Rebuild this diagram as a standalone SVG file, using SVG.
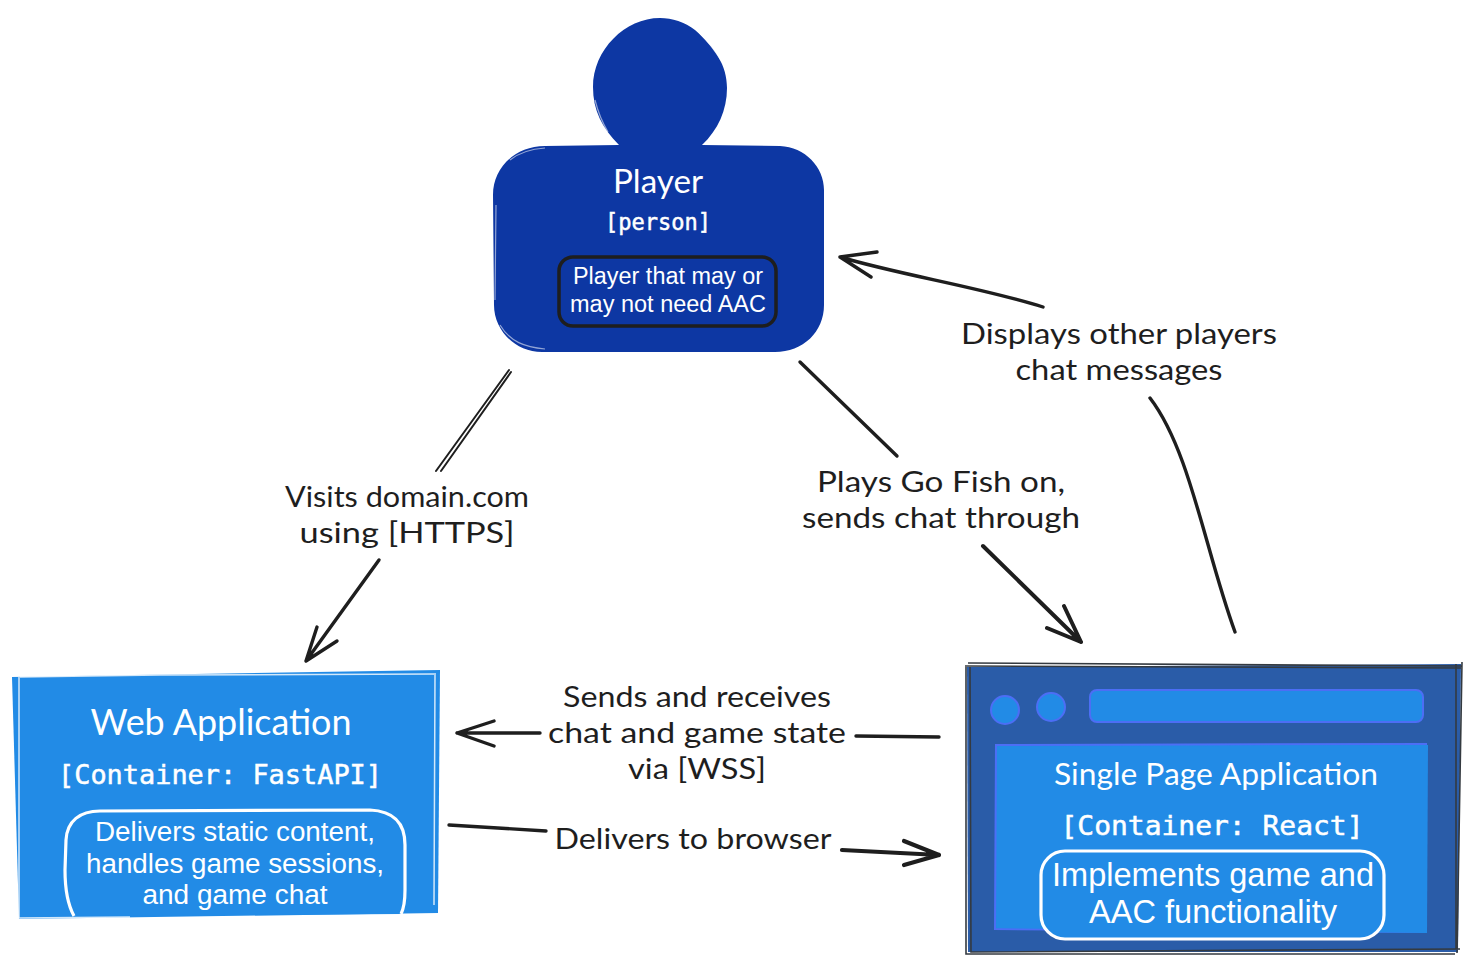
<svg xmlns="http://www.w3.org/2000/svg" width="1474" height="972" viewBox="0 0 1474 972">
<style>
.hand{font-family:"Lato","Open Sans","Liberation Sans",sans-serif;font-size:29px;fill:#1e1e1e;text-anchor:middle}
.title{font-family:"Lato","Open Sans","Liberation Sans",sans-serif;fill:#fff;text-anchor:middle;font-size:33px}
.mono{font-family:"DejaVu Sans Mono","Liberation Mono",monospace;fill:#fff;stroke:#fff;stroke-width:.5;text-anchor:middle}
.sans{font-family:"Liberation Sans",Arial,sans-serif;fill:#fff;text-anchor:middle}
.c{fill:none;stroke:#1e1e1e;stroke-width:3.4;stroke-linecap:round;stroke-linejoin:round}
.lite{fill:none;stroke:#fff;stroke-opacity:.55;stroke-width:1.2}
.dk{fill:none;stroke:#343a40;stroke-width:1.6}
.blu{fill:#228be6;stroke:#4c6ef5;stroke-width:2}
</style>
<rect width="1474" height="972" fill="#fff"/>
<g id="connectors">
<path class="c" style="stroke-width:2" d="M509 370L436 471M511 372L441 471"/>
<path class="c" d="M379 560L306 661M306 661L317 627M306 661L337 641"/>
<path class="c" d="M800 362L897 456"/>
<path class="c" d="M983 546L1081 642M1081 642L1064 606M1081 642L1047 628" style="stroke-width:4"/>
<path class="c" d="M1043 307C980 287 900 275 840 257M840 257L877 252M840 257L871 277"/>
<path class="c" d="M1150 398C1190 450 1205 550 1235 632"/>
<path class="c" d="M939 737L856 736"/>
<path class="c" d="M540 733L457 733M457 733L494 721M457 733L494 746"/>
<path class="c" d="M449 825L546 831"/>
<path class="c" d="M842 850L939 855M939 855L904 841M939 855L904 865" style="stroke-width:4.2"/>
</g>
<g id="edge-labels">
<text class="hand" x="407" y="507" textLength="244" lengthAdjust="spacingAndGlyphs">Visits domain.com</text>
<text class="hand" x="407" y="543" textLength="215" lengthAdjust="spacingAndGlyphs">using [HTTPS]</text>
<text class="hand" x="941" y="492" textLength="248" lengthAdjust="spacingAndGlyphs">Plays Go Fish on,</text>
<text class="hand" x="941" y="528" textLength="278" lengthAdjust="spacingAndGlyphs">sends chat through</text>
<text class="hand" x="1119" y="344" textLength="316" lengthAdjust="spacingAndGlyphs">Displays other players</text>
<text class="hand" x="1119" y="380" textLength="207" lengthAdjust="spacingAndGlyphs">chat messages</text>
<text class="hand" x="697" y="707" textLength="268" lengthAdjust="spacingAndGlyphs">Sends and receives</text>
<text class="hand" x="697" y="743" textLength="298" lengthAdjust="spacingAndGlyphs">chat and game state</text>
<text class="hand" x="697" y="779" textLength="138" lengthAdjust="spacingAndGlyphs">via [WSS]</text>
<text class="hand" x="693" y="849" textLength="277" lengthAdjust="spacingAndGlyphs">Delivers to browser</text>
</g>
<g id="player">
<path fill="#0d37a3" d="M593 87C593 50 625 18 660 18C672 18 685 22 695 30C715 48 727 65 727 88C727 110 718 130 702 145L780 146C805 147 824 167 824 190L824 305C824 332 803 352 775 352L542 352C515 352 494 330 494 305L493 195C493 168 515 146 545 146L619 145C602 128 593 110 593 87Z"/>
<path class="lite" d="M496 205L495 300M500 325C510 342 525 347 545 349M510 160C520 152 530 149 545 148M695 28C705 38 715 50 722 62M595 100C598 112 602 122 608 132"/>
<text class="title" x="658" y="193" textLength="90" lengthAdjust="spacingAndGlyphs" font-size="31">Player</text>
<text class="mono" x="658" y="230" font-size="23" textLength="106" lengthAdjust="spacingAndGlyphs">[person]</text>
<rect x="559" y="257" width="217" height="69" rx="14" fill="#0d37a3" stroke="#1e1e1e" stroke-width="3.5"/>
<text class="sans" x="668" y="284" font-size="23" textLength="190" lengthAdjust="spacingAndGlyphs">Player that may or</text>
<text class="sans" x="668" y="312" font-size="23" textLength="196" lengthAdjust="spacingAndGlyphs">may not need AAC</text>
</g>
<g id="web-application">
<path fill="#228be6" d="M12 677L440 670L438 913L19 919Z"/>
<path class="lite" d="M19 677L19 918M19 918L130 917M435 674L434 905M20 677L160 675L436 674" style="stroke-opacity:.8;stroke-width:1.5"/>
<text class="title" x="221" y="735" textLength="261" lengthAdjust="spacingAndGlyphs" style="font-size:36px">Web Application</text>
<text class="mono" x="220" y="784" font-size="27" textLength="324" lengthAdjust="spacingAndGlyphs">[Container: FastAPI]</text>
<path fill="#228be6" stroke="#fff" stroke-width="3.2" d="M74 916C68 905 65 890 65 870L66 840C67 821 80 811 100 811L370 810C392 811 405 822 405 845L405 890C405 900 404 908 401 914"/>
<text class="sans" x="235" y="841" font-size="27" textLength="280" lengthAdjust="spacingAndGlyphs">Delivers static content,</text>
<text class="sans" x="235" y="873" font-size="27" textLength="298" lengthAdjust="spacingAndGlyphs">handles game sessions,</text>
<text class="sans" x="235" y="904" font-size="27" textLength="185" lengthAdjust="spacingAndGlyphs">and game chat</text>
</g>
<g id="single-page-application">
<path fill="#2a5ca8" d="M967 667L1461 664L1458 952L968 952Z"/>
<path class="dk" d="M965 666L1461 668M968 663L1462 666M1462 662L1457 953M1456 664L1456 950M966 666L966 954L1455 954M970 666L971 952L1460 949"/>
<circle class="blu" cx="1005" cy="710" r="14"/>
<circle class="blu" cx="1051" cy="707" r="14"/>
<rect class="blu" x="1090" y="690" width="333" height="32" rx="7"/>
<path class="blu" d="M996 745L1426 744L1426 932L995 929Z"/>
<path fill="#228be6" d="M1000 747L1428 745L1427 933L1000 928Z"/>
<text class="title" x="1216" y="785" textLength="324" lengthAdjust="spacingAndGlyphs" style="font-size:31px">Single Page Application</text>
<text class="mono" x="1212" y="835" font-size="27" textLength="303" lengthAdjust="spacingAndGlyphs">[Container: React]</text>
<rect x="1041" y="851" width="343" height="88" rx="24" fill="#228be6" stroke="#fff" stroke-width="3.2"/>
<text class="sans" x="1213" y="886" font-size="33" textLength="322" lengthAdjust="spacingAndGlyphs">Implements game and</text>
<text class="sans" x="1213" y="923" font-size="33" textLength="248" lengthAdjust="spacingAndGlyphs">AAC functionality</text>
</g>
</svg>
